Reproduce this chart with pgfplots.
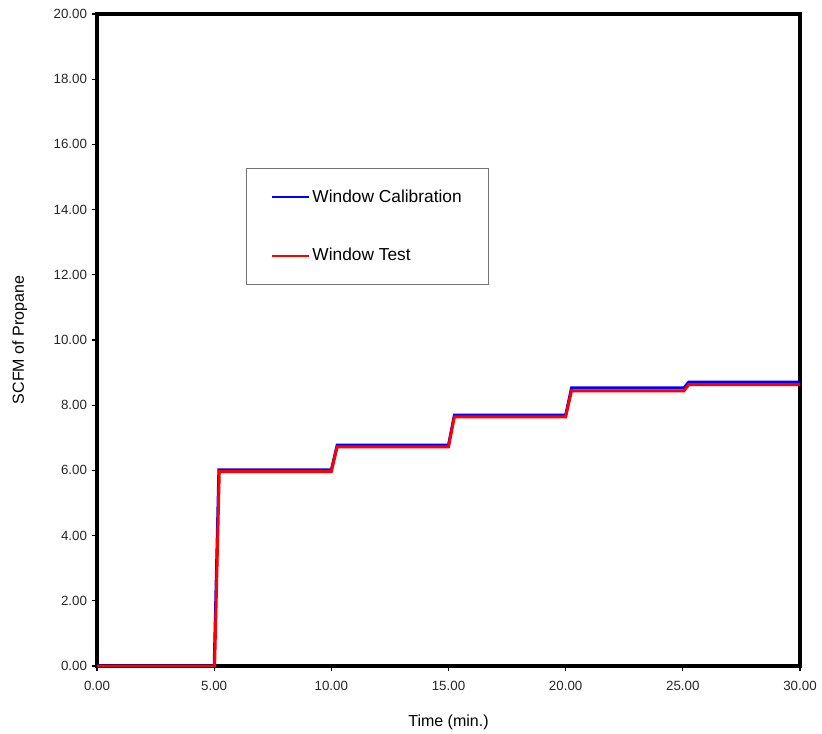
\documentclass[border=0pt]{standalone}
\usepackage{fontspec}
\setmainfont{Liberation Sans}
\usepackage{pgfplots}
\pgfplotsset{compat=1.18}
\definecolor{calblue}{HTML}{0000FF}
\definecolor{testred}{HTML}{FF0000}

\begin{document}
\begin{tikzpicture}
\useasboundingbox (-72.75pt,-50.25pt) rectangle (543.75pt,499.5pt);
\begin{axis}[
  scale only axis,
  width=527.25pt, height=489pt,
  xmin=0, xmax=30, ymin=0, ymax=20,
  xtick={0,5,...,30}, ytick={0,2,...,20},
  axis line style={line width=3pt, black},
  tick align=outside, xtick pos=bottom, ytick pos=left,
  major tick length=4pt,
  tick style={black, line width=0.8pt},
  /pgf/number format/.cd, fixed, fixed zerofill, precision=2, assume math mode=true,
  /pgfplots/.cd,
  tick label style={font=\fontsize{10}{12}\selectfont, text=black!85},
  xticklabel style={yshift=-4pt},
  xlabel={Time (min.)}, ylabel={SCFM of Propane},
  label style={font=\fontsize{12}{14}\selectfont},
  xlabel style={yshift=-11pt},
  ylabel style={yshift=13pt},
  legend cell align=left,
  legend style={at={(0.212,0.764)}, anchor=north west, draw=black!55, line width=0.8pt,
    font=\fontsize{13}{15}\selectfont, row sep=29pt,
    inner xsep=18pt, inner ysep=14pt},
  legend image code/.code={\draw[#1, line width=1.4pt] (0pt,0pt) -- (28pt,0pt);},
]
\addplot[calblue, line width=2.2pt] coordinates {
  (0,0) (5.00,0) (5.20,6.02) (10.00,6.02) (10.25,6.78) (15.00,6.78)
  (15.25,7.70) (20.00,7.70) (20.25,8.53) (25.05,8.53) (25.25,8.71) (30,8.71)};
\addlegendentry{Window Calibration}
\addplot[testred, line width=2.2pt] coordinates {
  (0,0) (5.02,0) (5.22,5.96) (10.00,5.96) (10.25,6.72) (15.00,6.72)
  (15.25,7.64) (20.00,7.64) (20.25,8.44) (25.05,8.44) (25.25,8.63) (30,8.63)};
\addlegendentry{Window Test}
\end{axis}
\end{tikzpicture}
\end{document}
